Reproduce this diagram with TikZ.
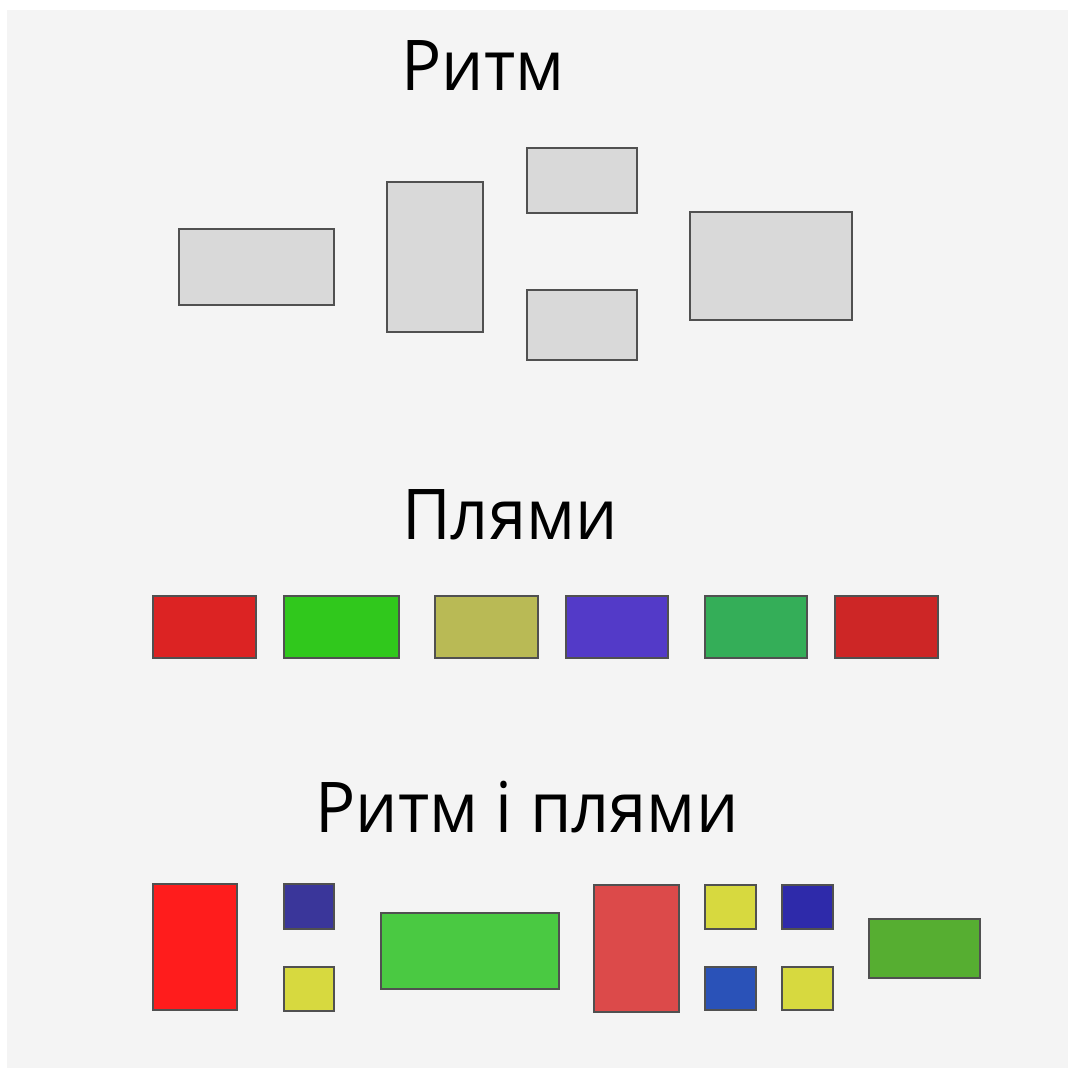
\documentclass[tikz,border=0pt]{standalone}
\usepackage{fontspec}
\setmainfont{Open Sans}[FakeStretch=0.955]
\definecolor{bg}{HTML}{F4F4F4}
\definecolor{gbox}{HTML}{D9D9D9}
\definecolor{edge}{HTML}{505050}
\definecolor{cA}{HTML}{DC2323}
\definecolor{cB}{HTML}{30C81C}
\definecolor{cC}{HTML}{B9BA55}
\definecolor{cD}{HTML}{533AC8}
\definecolor{cE}{HTML}{34AE58}
\definecolor{cF}{HTML}{CD2626}
\definecolor{rRed}{HTML}{FF1C1C}
\definecolor{rNavy}{HTML}{3A369A}
\definecolor{rYel}{HTML}{D7D93F}
\definecolor{rGreen}{HTML}{4AC942}
\definecolor{rRed2}{HTML}{DC4A4A}
\definecolor{rNavy2}{HTML}{2E2AAA}
\definecolor{rBlue}{HTML}{2A52B8}
\definecolor{rGreen2}{HTML}{56AE31}
\newcommand\rbox[6]{\node[box,fill=#2,minimum width={(#5-#3)*1pt},minimum height={(#6-#4)*1pt}] (#1) at ({(#3+#5)/2},{(#4+#6)/2}) {};}
\tikzset{
  box/.style={draw=edge,line width=1.3pt,inner sep=0pt,outer sep=0pt,rectangle},
  title/.style={font=\fontsize{70}{84}\selectfont,text=black,inner sep=0pt,anchor=base}
}
\begin{document}
\begin{tikzpicture}[x=1pt,y=-1pt]
\useasboundingbox (0,0) rectangle (1068,1068);
\fill[bg] (7,10) rectangle (1068,1068);
\node[title] (t1) at (483,90) {Ритм};
\node[title] (t2) at (510,539) {Плями};
\node[title] (t3) at (527,832) {Ритм і плями};
% Ритм
\rbox{g1}{gbox}{179}{229}{334}{305}
\rbox{g2}{gbox}{387}{182}{483}{332}
\rbox{g3}{gbox}{527}{148}{637}{213}
\rbox{g4}{gbox}{527}{290}{637}{360}
\rbox{g5}{gbox}{690}{212}{852}{320}
% Плями
\rbox{p1}{cA}{153}{596}{256}{658}
\rbox{p2}{cB}{284}{596}{399}{658}
\rbox{p3}{cC}{435}{596}{538}{658}
\rbox{p4}{cD}{566}{596}{668}{658}
\rbox{p5}{cE}{705}{596}{807}{658}
\rbox{p6}{cF}{835}{596}{938}{658}
% Ритм і плями
\rbox{b1}{rRed}{153}{884}{237}{1010}
\rbox{b2}{rNavy}{284}{884}{334}{929}
\rbox{b3}{rYel}{284}{967}{334}{1011}
\rbox{b4}{rGreen}{381}{913}{559}{989}
\rbox{b5}{rRed2}{594}{885}{679}{1012}
\rbox{b6}{rYel}{705}{885}{756}{929}
\rbox{b7}{rNavy2}{782}{885}{833}{929}
\rbox{b8}{rBlue}{705}{967}{756}{1010}
\rbox{b9}{rYel}{782}{967}{833}{1010}
\rbox{b10}{rGreen2}{869}{919}{980}{978}
\end{tikzpicture}
\end{document}
